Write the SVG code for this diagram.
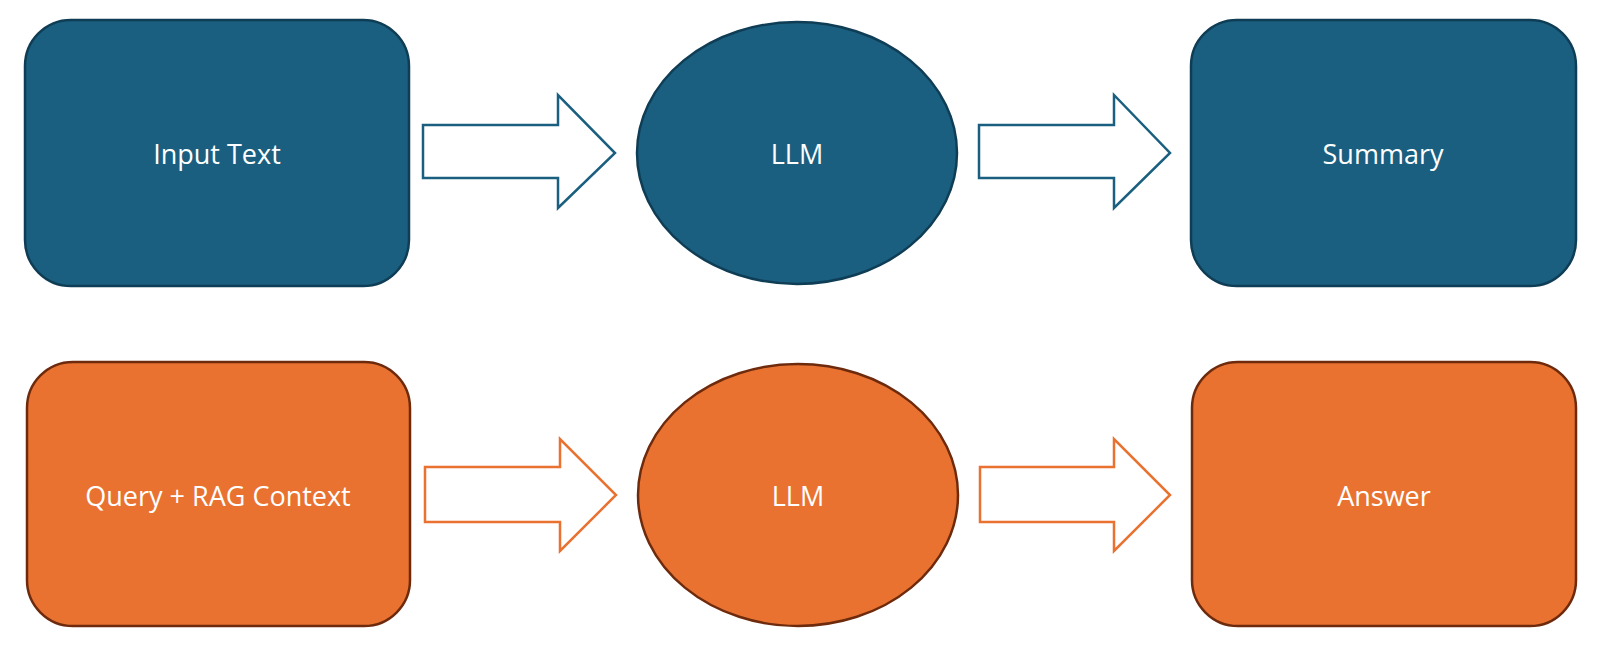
<svg xmlns="http://www.w3.org/2000/svg" width="1600" height="651" viewBox="0 0 1600 651">
<style>
.b{fill:#1a5f7f;stroke:#0f3d55;stroke-width:2.5}
.o{fill:#e97231;stroke:#6e2a0c;stroke-width:2.5}
.ab{fill:#fff;stroke:#1a5f7f;stroke-width:2.5}
.ao{fill:#fff;stroke:#e97231;stroke-width:2.5}
text{font-family:"Open Sans","Liberation Sans",sans-serif;font-size:27px;fill:#fff;text-anchor:middle;dominant-baseline:central}
</style>
<rect width="1600" height="651" fill="#fff"/>
<g id="input"><rect class="b" x="25" y="20" width="384" height="266" rx="46"/><text x="217" y="153">Input Text</text></g>
<g id="llm1"><ellipse class="b" cx="797" cy="153" rx="160" ry="131"/><text x="797" y="153">LLM</text></g>
<g id="summary"><rect class="b" x="1191" y="20" width="385" height="266" rx="46"/><text x="1383" y="153">Summary</text></g>
<g id="query"><rect class="o" x="27" y="362" width="383" height="264" rx="46"/><text x="218" y="495">Query + RAG Context</text></g>
<g id="llm2"><ellipse class="o" cx="798" cy="495" rx="160" ry="131"/><text x="798" y="495">LLM</text></g>
<g id="answer"><rect class="o" x="1192" y="362" width="384" height="264" rx="46"/><text x="1384" y="495">Answer</text></g>
<g id="connectors">
<polygon class="ab" points="423,125 558,125 558,95 615,153 558,208 558,178 423,178"/>
<polygon class="ab" points="979,125 1114,125 1114,95 1170,153 1114,208 1114,178 979,178"/>
<polygon class="ao" points="425,467 560,467 560,439 616,495 560,551 560,522 425,522"/>
<polygon class="ao" points="980,467 1114,467 1114,439 1170,495 1114,551 1114,522 980,522"/>
</g>
</svg>
